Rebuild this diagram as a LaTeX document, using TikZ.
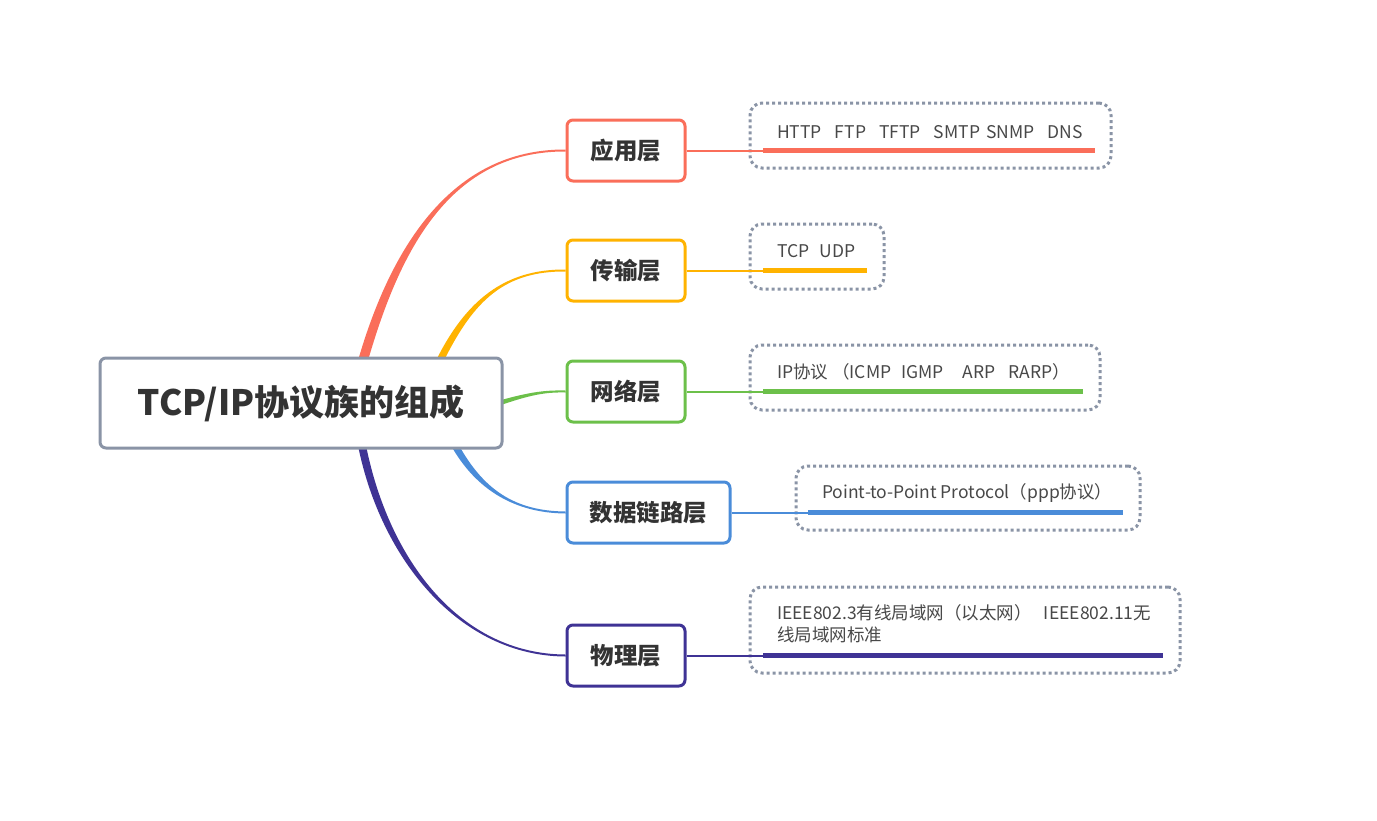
\documentclass[tikz,border=0pt]{standalone}
\usepackage{fontspec}
\setmainfont{Noto Sans CJK SC}
\usetikzlibrary{calc, positioning}
\pgfdeclarelayer{background}
\pgfsetlayers{background,main}
\definecolor{appc}{HTML}{FA6E5A}
\definecolor{tranc}{HTML}{FFB300}
\definecolor{netc}{HTML}{6CC04A}
\definecolor{linkc}{HTML}{4A8CD9}
\definecolor{phyc}{HTML}{3F3395}
\definecolor{framec}{HTML}{8A94A6}
\definecolor{textc}{HTML}{333333}
\definecolor{leaftextc}{HTML}{484848}

\begin{document}
\begin{tikzpicture}[x=1pt, y=-1pt,
  root/.style={draw=framec, line width=3pt, rounded corners=6pt, fill=white,
    minimum width=402pt, minimum height=90pt, text=textc,
    font=\fontsize{35}{42}\selectfont\bfseries},
  layer/.style={line width=3pt, rounded corners=6pt, fill=white,
    minimum height=61pt, text=textc, font=\fontsize{23.5}{28}\selectfont\bfseries},
  leaf/.style={draw=framec, line width=3pt, dash pattern=on 3pt off 3pt,
    rounded corners=12pt, fill=white},
  leaftext/.style={anchor=base west, inner sep=0pt, align=left, text=leaftextc,
    font=\fontsize{17.5}{22}\selectfont},
  stem/.style={line width=2pt},
  bar/.style={line width=5pt}]
  \useasboundingbox (0,0) rectangle (1377,820);

  % root and layers
  \node[root] (root) at (301,403) {TCP/IP协议族的组成};
  \node[layer, draw=appc, minimum width=118pt] (app) at (626,150.5) {应用层};
  \node[layer, draw=tranc, minimum width=118pt] (tran) at (626,270.5) {传输层};
  \node[layer, draw=netc, minimum width=118pt] (net) at (626,391.5) {网络层};
  \node[layer, draw=linkc, minimum width=163pt] (link) at (648.5,512.5) {数据链路层};
  \node[layer, draw=phyc, minimum width=118pt] (phy) at (626,655.5) {物理层};

  % tapered branches
  \begin{pgfonlayer}{background}
    \fill[appc] ($(root.north)+(57,4)$) .. controls (390,250) and (450,149) .. ([yshift=1pt]app.west)
      -- ([yshift=-1pt]app.west) .. controls (450,151) and (400,250) .. ($(root.north)+(67,4)$) -- cycle;
    \fill[tranc] ($(root.north)+(135,4)$) .. controls (466,300) and (505,269) .. ([yshift=1pt]tran.west)
      -- ([yshift=-1pt]tran.west) .. controls (505,271) and (474,300) .. ($(root.north)+(143,4)$) -- cycle;
    \fill[netc] ($(root.east)+(-4,-2.5)$) .. controls (530,392) and (545,390) .. ([yshift=1pt]net.west)
      -- ([yshift=-1pt]net.west) .. controls (545,392) and (530,395) .. ($(root.east)+(-4,2.5)$) -- cycle;
    \fill[linkc] ($(root.south)+(150,-4)$) .. controls (476,490) and (515,513) .. ([yshift=-1pt]link.west)
      -- ([yshift=1pt]link.west) .. controls (515,511) and (484,490) .. ($(root.south)+(158,-4)$) -- cycle;
    \fill[phyc] ($(root.south)+(57,-4)$) .. controls (381,560) and (460,656) .. ([yshift=-1pt]phy.west)
      -- ([yshift=1pt]phy.west) .. controls (460,654) and (389,560) .. ($(root.south)+(65,-4)$) -- cycle;
  \end{pgfonlayer}

  % leaf boxes
  \node[leaf, minimum width=361pt, minimum height=65pt] (appbox) at (930.5,135.5) {};
  \node[leaf, minimum width=134pt, minimum height=65pt] (tranbox) at (817,256.5) {};
  \node[leaf, minimum width=350pt, minimum height=65pt] (netbox) at (925,377.5) {};
  \node[leaf, minimum width=344pt, minimum height=64pt] (linkbox) at (968,498) {};
  \node[leaf, minimum width=430pt, minimum height=86pt] (phybox) at (965,630) {};

  \node[leaftext] (apptext) at (777,138) {HTTP\hspace{13pt}FTP\hspace{13pt}TFTP\hspace{13pt}SMTP\hspace{6pt}SNMP\hspace{13pt}DNS};
  \node[leaftext] (trantext) at (777,257) {TCP\hspace{10pt}UDP};
  \node[leaftext] (nettext) at (777,378) {IP协议 （ICMP\hspace{10pt}IGMP\hspace{19pt}ARP\hspace{13pt}RARP）};
  \node[leaftext] (linktext) at (822,498) {Point-to-Point Protocol（ppp协议）};
  \node[leaftext] (phytext) at (777,641) {IEEE802.3有线局域网（以太网）\hspace{12pt}IEEE802.11无\\线局域网标准};

  % stems and bars
  \coordinate (appa) at (763,150.5);  \coordinate (appb) at (1095,150.5);
  \coordinate (trana) at (763,270.5); \coordinate (tranb) at (867,270.5);
  \coordinate (neta) at (763,391.5);  \coordinate (netb) at (1083,391.5);
  \coordinate (linka) at (808,512.5); \coordinate (linkb) at (1123,512.5);
  \coordinate (phya) at (763,655.5);  \coordinate (phyb) at (1163,655.5);
  \draw[stem, appc] (app.east) -- (appa);
  \draw[bar, appc] (appa) -- (appb);
  \draw[stem, tranc] (tran.east) -- (trana);
  \draw[bar, tranc] (trana) -- (tranb);
  \draw[stem, netc] (net.east) -- (neta);
  \draw[bar, netc] (neta) -- (netb);
  \draw[stem, linkc] (link.east) -- (linka);
  \draw[bar, linkc] (linka) -- (linkb);
  \draw[stem, phyc] (phy.east) -- (phya);
  \draw[bar, phyc] (phya) -- (phyb);
\end{tikzpicture}
\end{document}
